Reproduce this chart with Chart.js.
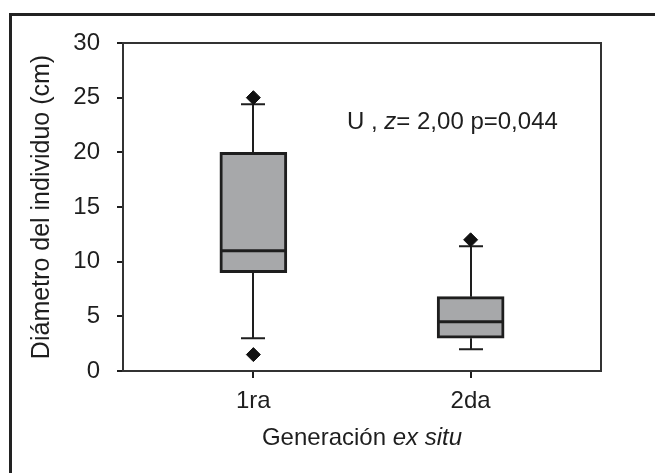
<!DOCTYPE html>
<html>
<head>
<meta charset="utf-8">
<script src="https://cdn.jsdelivr.net/npm/chart.js@4.4.1/dist/chart.umd.min.js"></script>
<style>
  html, body { margin: 0; padding: 0; background: #fff; }
  #wrap { width: 655px; height: 473px; position: relative; }
</style>
</head>
<body>
<div id="wrap"><canvas id="chart1" width="655" height="473"></canvas></div>
<script>
// box plot values
const categories = ["1ra", "2da"];
const positions = [1, 2];
const q1 = [9, 3];
const median = [11, 4.5];
const q3 = [20, 6.8];
const whisker_low = [3, 2];
const whisker_high = [24.4, 11.4];
const outliers = [[25, 1.5], [12]];
const y_ticks = [0, 5, 10, 15, 20, 25, 30];

const ink = "#1e1e1e";
const fontFam = "'Liberation Sans', Arial, sans-serif";

const ctx1 = document.getElementById("chart1").getContext("2d");

let box_data = positions.map((p, i) => ({ x: p, y: [q1[i], q3[i]] }));
let outlier_data = [];
outliers.forEach((list, i) => {
  list.forEach(v => outlier_data.push({ x: positions[i], y: v }));
});

// whiskers, caps, median, frames and texts
const boxExtras = {
  id: "boxExtras",
  beforeDraw(chart) {
    const c = chart.ctx;
    c.save();
    c.strokeStyle = "#222";
    c.lineWidth = 3;
    c.beginPath();
    c.moveTo(10.5, 480);
    c.lineTo(10.5, 14.5);
    c.lineTo(660, 14.5);
    c.stroke();
    c.restore();
  },
  beforeDatasetsDraw(chart) {
    const c = chart.ctx;
    const xs = chart.scales.x, ys = chart.scales.y;
    c.save();
    c.strokeStyle = ink;
    c.lineWidth = 2;
    positions.forEach((p, i) => {
      const px = Math.round(xs.getPixelForValue(p));
      const capW = 12;
      const hi = ys.getPixelForValue(whisker_high[i]);
      const top = ys.getPixelForValue(q3[i]);
      const lo = ys.getPixelForValue(whisker_low[i]);
      const bot = ys.getPixelForValue(q1[i]);
      c.beginPath();
      c.moveTo(px, top); c.lineTo(px, hi);
      c.moveTo(px - capW, hi); c.lineTo(px + capW, hi);
      c.moveTo(px, bot); c.lineTo(px, lo);
      c.moveTo(px - capW, lo); c.lineTo(px + capW, lo);
      c.stroke();
    });
    c.restore();
  },
  afterDatasetsDraw(chart) {
    const c = chart.ctx;
    const xs = chart.scales.x, ys = chart.scales.y;
    const area = chart.chartArea;
    c.save();
    c.strokeStyle = ink;
    c.lineWidth = 3;
    const half = 33;
    positions.forEach((p, i) => {
      const px = xs.getPixelForValue(p);
      const py = ys.getPixelForValue(median[i]);
      c.beginPath();
      c.moveTo(px - half, py); c.lineTo(px + half, py);
      c.stroke();
    });
    // top and right sides of the plot frame
    c.strokeStyle = "#333";
    c.lineWidth = 2;
    c.beginPath();
    c.moveTo(area.left, area.top);
    c.lineTo(area.right, area.top);
    c.lineTo(area.right, area.bottom);
    c.stroke();

    // statistic text
    c.fillStyle = ink;
    c.textBaseline = "middle";
    let tx = 347, ty = 122;
    const parts = [["U , ", "normal"], ["z", "italic"], ["= 2,00 p=0,044", "normal"]];
    parts.forEach(([t, st]) => {
      c.font = st + " 24px " + fontFam;
      c.fillText(t, tx, ty);
      tx += c.measureText(t).width;
    });

    // x axis title with italic part
    const xparts = [["Generación ", "normal"], ["ex situ", "italic"]];
    let total = 0;
    xparts.forEach(([t, st]) => {
      c.font = st + " 24px " + fontFam;
      total += c.measureText(t).width;
    });
    let gx = (area.left + area.right) / 2 - total / 2;
    xparts.forEach(([t, st]) => {
      c.font = st + " 24px " + fontFam;
      c.fillText(t, gx, 438);
      gx += c.measureText(t).width;
    });
    c.restore();
  }
};

let my_chart1 = new Chart(ctx1, {
  type: "bar",
  data: {
    datasets: [
      {
        type: "scatter",
        label: "Atípicos",
        data: outlier_data,
        pointStyle: "rectRot",
        pointRadius: 7,
        backgroundColor: "#111",
        borderColor: "#111",
        borderWidth: 1,
      },
      {
        type: "bar",
        label: "Caja",
        data: box_data,
        backgroundColor: "#a7a8aa",
        borderColor: ink,
        borderWidth: 3,
        borderSkipped: false,
        barThickness: 67,
        grouped: false,
      },
    ],
  },
  options: {
    responsive: false,
    animation: false,
    events: [],
    layout: { padding: { top: 43, right: 54, left: 0, bottom: 0 } },
    plugins: {
      legend: { display: false },
      tooltip: { enabled: false },
    },
    scales: {
      x: {
        type: "linear",
        offset: false,
        min: 0.4,
        max: 2.6,
        afterFit(scale) { scale.height = 102; },
        afterBuildTicks(scale) {
          scale.ticks = positions.map(v => ({ value: v }));
        },
        ticks: {
          callback: (v) => categories[positions.indexOf(v)] || "",
          color: ink,
          font: { family: fontFam, size: 24 },
          padding: 9,
          maxRotation: 0,
        },
        grid: {
          display: true,
          offset: false,
          drawOnChartArea: false,
          drawTicks: true,
          tickLength: 7,
          color: ink,
          lineWidth: 2,
        },
        border: { display: true, color: "#333", width: 2 },
      },
      y: {
        min: 0,
        max: 30,
        afterFit(scale) { scale.width = 123; },
        afterBuildTicks(scale) {
          scale.ticks = y_ticks.map(v => ({ value: v }));
        },
        ticks: {
          color: ink,
          font: { family: fontFam, size: 24 },
          padding: 17,
        },
        grid: {
          display: true,
          drawOnChartArea: false,
          drawTicks: true,
          tickLength: 6,
          color: ink,
          lineWidth: 2,
        },
        border: { display: true, color: "#333", width: 2 },
        title: {
          display: true,
          text: "Diámetro del individuo (cm)",
          color: ink,
          font: { family: fontFam, size: 25 },
          padding: { top: 27, bottom: 0 },
        },
      },
    },
  },
  plugins: [boxExtras],
});
</script>
</body>
</html>
